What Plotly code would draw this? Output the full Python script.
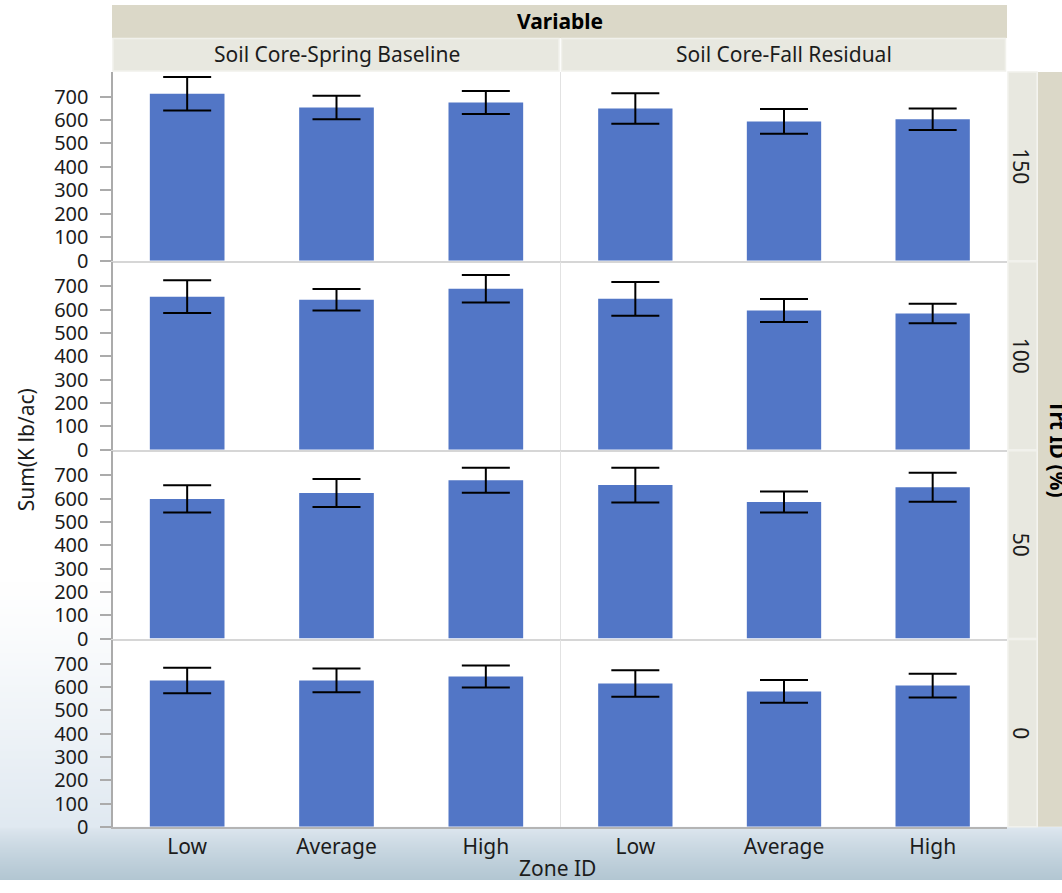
import base64
import struct
import zlib

import numpy as np
import plotly.graph_objects as go
from plotly.subplots import make_subplots

# ---- data: Sum(K lb/ac) by Zone ID, one row per Trt ID (%) ----
zones = ["Low", "Average", "High"]
variables = ["Soil Core-Spring Baseline", "Soil Core-Fall Residual"]
treatments = ["150", "100", "50", "0"]

# rows follow `treatments`, columns follow `zones`
spring_mean = [[712, 653, 675], [655, 642, 689], [599, 624, 679], [629, 629, 646]]
spring_err = [[71, 50, 49], [70, 46, 59], [58, 60, 54], [55, 51, 47]]
fall_mean = [[649, 594, 603], [646, 596, 583], [658, 586, 649], [616, 582, 607]]
fall_err = [[65, 53, 46], [72, 49, 42], [74, 45, 62], [57, 49, 51]]

y_ticks = [0, 100, 200, 300, 400, 500, 600, 700]

# ---- page geometry (pixels) ----
W, H = 1062, 893
COL_X = [(112.5, 560.5), (561.0, 1007.0)]
ROW_Y = [(73.0, 264.5), (265.5, 456.5), (457.5, 648.0), (649.0, 839.0)]

BAR = "#5276C6"
INK = "#1c1c1c"
FONT = "Noto Sans"
STRIP_DARK = "#dbd8c8"
STRIP_LIGHT = "#e8e8e0"


def px(x):
    return x / W


def py(y):
    return 1 - y / H


def haze_uri():
    """Soft sky-coloured backdrop for the page margins, as an inline PNG."""
    yy = np.arange(H, dtype=float)[:, None]
    img = np.ones((H, W, 4), dtype=float) * 255
    white = np.array([255.0, 255.0, 255.0])
    mid = np.array([224.0, 233.0, 241.0])
    low = np.array([178.0, 198.0, 210.0])
    t1 = np.clip((yy - 590) / (839 - 590), 0, 1)[..., None]
    t2 = np.clip((yy - 839) / (H - 839), 0, 1)[..., None]
    col = white + (mid - white) * t1 ** 1.2
    col = np.where(yy[..., None] >= 839, mid + (low - mid) * t2 ** 0.8, col)
    img[..., :3] = np.broadcast_to(col, (H, W, 3))
    xs = np.arange(W)[None, :]
    inside = (xs >= 112) & (yy < 839)
    img[..., 3] = np.where(inside, 0, 255)
    rgba = img.astype(np.uint8)
    raw = b"".join(b"\x00" + rgba[i].tobytes() for i in range(H))

    def chunk(tag, data):
        body = tag + data
        return struct.pack(">I", len(data)) + body + struct.pack(">I", zlib.crc32(body) & 0xFFFFFFFF)

    png = (b"\x89PNG\r\n\x1a\n"
           + chunk(b"IHDR", struct.pack(">IIBBBBB", W, H, 8, 6, 0, 0, 0))
           + chunk(b"IDAT", zlib.compress(raw, 9))
           + chunk(b"IEND", b""))
    return "data:image/png;base64," + base64.b64encode(png).decode()


fig = make_subplots(rows=4, cols=2, horizontal_spacing=0, vertical_spacing=0)

for r in range(4):
    for c, (means, errs) in enumerate([(spring_mean, spring_err), (fall_mean, fall_err)]):
        fig.add_trace(
            go.Bar(
                x=zones,
                y=means[r],
                marker=dict(color=BAR, line=dict(width=0)),
                error_y=dict(type="data", array=errs[r], visible=True,
                             color="#000000", thickness=2, width=24),
                showlegend=False,
                hoverinfo="x+y",
            ),
            row=r + 1, col=c + 1,
        )

for r in range(4):
    y0, y1 = ROW_Y[r]
    for c in range(2):
        x0, x1 = COL_X[c]
        bottom = r == 3
        fig.update_xaxes(
            row=r + 1, col=c + 1,
            domain=[px(x0), px(x1)],
            type="category",
            categoryorder="array", categoryarray=zones,
            range=[-0.5, 2.5],
            showticklabels=bottom,
            tickfont=dict(family=FONT, size=21, color=INK),
            ticks="",
            showgrid=False, zeroline=False,
            showline=True,
            linecolor="#b4b4b4" if bottom else "#d6d6d6",
            linewidth=2,
        )
        fig.update_yaxes(
            row=r + 1, col=c + 1,
            domain=[py(y1), py(y0)],
            range=[0, 805],
            tickvals=y_ticks,
            showticklabels=(c == 0),
            tickfont=dict(family=FONT, size=20, color=INK),
            ticklabelstandoff=7,
            ticks="outside" if c == 0 else "",
            ticklen=11, tickwidth=2, tickcolor="#ababab",
            showgrid=False, zeroline=False,
            showline=True,
            linecolor="#ababab" if c == 0 else "#e2e2e2",
            linewidth=2 if c == 0 else 1,
        )

shapes = []
annotations = []


def rect(x0, y0, x1, y1, fill, line=None):
    shapes.append(dict(
        type="rect", xref="paper", yref="paper",
        x0=px(x0), x1=px(x1), y0=py(y1), y1=py(y0),
        fillcolor=fill,
        line=dict(color=line or fill, width=1.5 if line else 0),
        layer="below",
    ))


def label(x, y, text, size=21, bold=False, angle=0):
    annotations.append(dict(
        xref="paper", yref="paper", x=px(x), y=py(y),
        text=f"<b>{text}</b>" if bold else text,
        showarrow=False, textangle=angle,
        xanchor="center", yanchor="middle",
        font=dict(family=FONT, size=size, color=INK if not bold else "#000000"),
    ))


# column header strips
rect(112, 5, 1007, 38.5, STRIP_DARK)
label((112 + 1007) / 2, 21, "Variable", bold=True)
for c, name in enumerate(variables):
    x0, x1 = COL_X[c]
    rect(x0 + 0.5, 39, x1 - 1.5, 72, STRIP_LIGHT, "#f1f1ec")
    label((x0 + x1) / 2, 55, name)

# row header strips
for r, trt in enumerate(treatments):
    y0, y1 = ROW_Y[r]
    rect(1008, y0, 1037, y1, STRIP_LIGHT, "#f1f1ec")
    label(1021, (y0 + y1) / 2, trt, angle=90)
rect(1038, 73, W + 2, 839, STRIP_DARK)
label(1058, 455, "Trt ID (%)", bold=True, angle=90)

# axis titles
label(26, 457, "Sum(K lb/ac)", angle=-90)
label(557, 881, "Zone ID")

fig.update_layout(
    width=W, height=H,
    margin=dict(l=0, r=0, t=0, b=0),
    paper_bgcolor="#ffffff",
    plot_bgcolor="#ffffff",
    bargap=0.5,
    shapes=shapes,
    annotations=annotations,
    images=[dict(source=haze_uri(), xref="paper", yref="paper",
                 x=0, y=1, sizex=1, sizey=1, xanchor="left", yanchor="top",
                 sizing="stretch", layer="below")],
    font=dict(family=FONT, color=INK),
)

fig.write_html("out.html")
